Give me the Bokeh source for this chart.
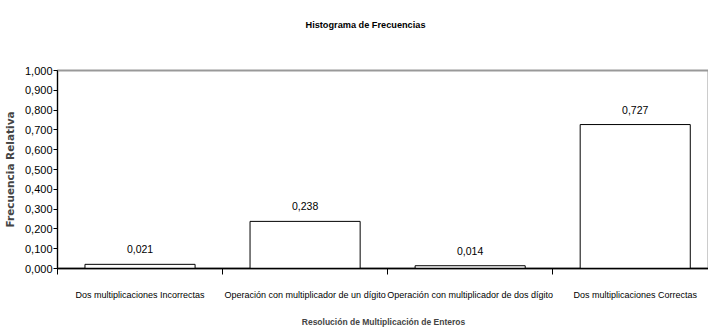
from bokeh.plotting import figure
from bokeh.models import FixedTicker, CustomJSTickFormatter, LabelSet, ColumnDataSource, Range1d, Title
from bokeh.core.properties import value
from bokeh.embed import file_html
from bokeh.resources import INLINE

categories = ["Dos multiplicaciones Incorrectas",
              "Operación con multiplicador de un dígito",
              "Operación con multiplicador de dos dígito",
              "Dos multiplicaciones Correctas"]
values = [0.021, 0.238, 0.014, 0.727]
value_labels = ["0,021", "0,238", "0,014", "0,727"]
yticks = [0.0, 0.1, 0.2, 0.3, 0.4, 0.5, 0.6, 0.7, 0.8, 0.9, 1.0]

FONT = "Liberation Sans"

xs = [i + 0.5 for i in range(len(categories))]
src = ColumnDataSource(dict(x=xs, top=values, lab=value_labels))

p = figure(frame_width=652, frame_height=198, output_backend="svg", toolbar_location=None,
           x_range=Range1d(0, 3.95), y_range=Range1d(0, 1.0),
           min_border_left=56, min_border_right=0, min_border_top=70, min_border_bottom=61,
           title=None)
p.xgrid.visible = False
p.ygrid.visible = False
p.outline_line_color = "#999999"
p.outline_line_width = 2
p.background_fill_color = "white"
p.border_fill_color = "white"

spacer = Title(text=" ", text_font_size="1px", standoff=36)
p.add_layout(spacer, "above")
main_title = Title(text="Histograma de Frecuencias", align="left", vertical_align="top",
                   offset=248, standoff=0, text_font=FONT, text_font_style="bold",
                   text_font_size="9.2px", text_color="black")
p.add_layout(main_title, "above")

p.vbar(x="x", top="top", width=0.667, source=src, fill_color="white", line_color="black", line_width=1)

p.add_layout(LabelSet(x="x", y="top", text="lab", source=src, text_align="center",
                      text_baseline="bottom", y_offset=11, text_font=value(FONT),
                      text_font_size=value("10.5px"), text_color="black"))

# x axis
xa = p.xaxis[0]
xa.ticker = FixedTicker(ticks=xs, minor_ticks=[0, 1, 2, 3, 4])
xa.formatter = CustomJSTickFormatter(args=dict(labels=categories),
                                     code="return labels[Math.round(tick - 0.5)];")
xa.major_tick_out = 0
xa.major_tick_in = 0
xa.minor_tick_out = 6
xa.minor_tick_in = 0
xa.minor_tick_line_color = "black"
xa.axis_line_color = "black"
xa.axis_line_width = 1.5
xa.major_label_standoff = 15
xa.major_label_text_font = FONT
xa.major_label_text_font_size = "9px"
xa.major_label_text_color = "black"
xa.axis_label = "Resolución de Multiplicación de Enteros"
xa.axis_label_text_font = FONT
xa.axis_label_text_font_style = "bold"
xa.axis_label_text_font_size = "8.5px"
xa.axis_label_standoff = 14

# y axis
ya = p.yaxis[0]
ya.ticker = FixedTicker(ticks=yticks)
ya.formatter = CustomJSTickFormatter(code="return tick.toFixed(3).replace('.', ',');")
ya.major_tick_out = 4
ya.major_tick_in = 0
ya.minor_tick_out = 0
ya.minor_tick_in = 0
ya.axis_line_color = "black"
ya.major_tick_line_color = "black"
ya.major_label_standoff = 1
ya.major_label_text_font = FONT
ya.major_label_text_font_size = "11px"
ya.major_label_text_color = "black"
ya.axis_label = "Frecuencia Relativa"
ya.axis_label_text_font = "DejaVu Sans"
ya.axis_label_text_font_style = "bold"
ya.axis_label_text_font_size = "10.5px"
ya.axis_label_standoff = 6

open("out.html", "w").write(file_html(p, INLINE))
